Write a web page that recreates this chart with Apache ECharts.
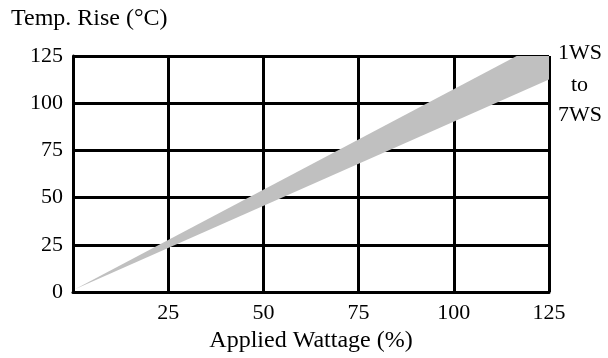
<!DOCTYPE html>
<html>
<head>
<meta charset="utf-8">
<script src="https://cdn.jsdelivr.net/npm/echarts@6/dist/echarts.min.js"></script>
<style>
html,body{margin:0;padding:0;background:#fff;}
#chart{width:608px;height:358px;}
</style>
</head>
<body>
<div id="chart"></div>
<script>
// Data
var xTicks = [0, 25, 50, 75, 100, 125];
var yTicks = [0, 25, 50, 75, 100, 125];
// Upper edge of band (1WS) and lower edge (7WS): [Applied Wattage %, Temp. Rise °C]
var upperEdge = [[0.5, 1.5], [116.5, 125], [125, 125]];
var lowerEdge = [[0.5, 1.5], [125, 112.5]];
var yTitle = 'Temp. Rise (°C)';
var xTitle = 'Applied Wattage (%)';
var bandLabels = ['1WS', 'to', '7WS'];

var FONT = '"Liberation Serif", "DejaVu Serif", serif';
var chart = echarts.init(document.getElementById('chart'));

var polygon = upperEdge.concat(lowerEdge.slice().reverse());

chart.setOption({
  animation: false,
  backgroundColor: '#fff',
  grid: { left: 73, right: 59, top: 56, bottom: 63, containLabel: false },
  xAxis: {
    type: 'value', min: xTicks[0], max: xTicks[xTicks.length - 1], interval: 25,
    name: xTitle, nameLocation: 'middle', nameGap: 37,
    nameTextStyle: { fontFamily: FONT, fontSize: 24, color: '#000' },
    axisLine: { show: true, onZero: false, lineStyle: { color: '#000', width: 3 } },
    axisTick: { show: false },
    axisLabel: { fontFamily: FONT, fontSize: 22, color: '#000', margin: 10,
      formatter: function (v) { return v === 0 ? '' : String(v); } },
    splitLine: { show: true, showMinLine: true, showMaxLine: true, lineStyle: { color: '#000', width: 3 } }
  },
  yAxis: {
    type: 'value', min: yTicks[0], max: yTicks[yTicks.length - 1], interval: 25,
    axisLine: { show: true, onZero: false, lineStyle: { color: '#000', width: 3 } },
    axisTick: { show: false },
    axisLabel: { fontFamily: FONT, fontSize: 22, color: '#000', margin: 10 },
    splitLine: { show: true, showMinLine: true, showMaxLine: true, lineStyle: { color: '#000', width: 3 } }
  },
  graphic: [
    { type: 'text', left: 11, top: 7, style: { text: yTitle, font: '24px ' + FONT, fill: '#000' } },
    { type: 'text', left: 558, top: 42, style: { text: bandLabels[0], font: '22px ' + FONT, fill: '#000' } },
    { type: 'text', left: 571, top: 74, style: { text: bandLabels[1], font: '22px ' + FONT, fill: '#000' } },
    { type: 'text', left: 558, top: 104, style: { text: bandLabels[2], font: '22px ' + FONT, fill: '#000' } }
  ],
  series: [{
    type: 'custom',
    coordinateSystem: 'cartesian2d',
    data: [0],
    z: 1,
    renderItem: function (params, api) {
      var pts = polygon.map(function (p) { return api.coord(p); });
      return { type: 'polygon', shape: { points: pts }, style: { fill: '#c0c0c0', stroke: null } };
    }
  }]
});
</script>
</body>
</html>
